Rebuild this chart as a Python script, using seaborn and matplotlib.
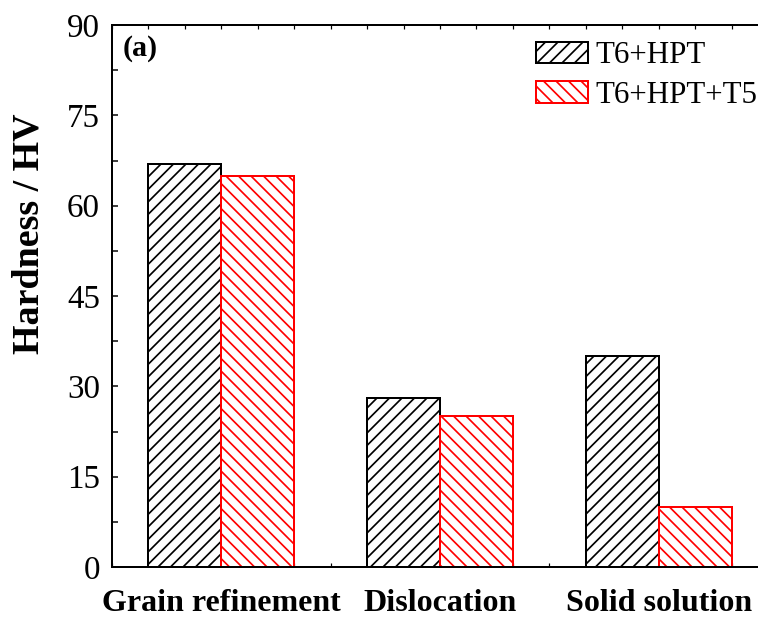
import matplotlib
matplotlib.use("Agg")
import matplotlib.pyplot as plt
from matplotlib.ticker import MultipleLocator, FixedLocator
import seaborn as sns
import pandas as pd

# Hardness contributions by strengthening mechanism
mechanisms = ["Grain refinement", "Dislocation", "Solid solution"]
t6_hpt = [67, 28, 35]
t6_hpt_t5 = [65, 25, 10]
conditions = ["T6+HPT", "T6+HPT+T5"]
edge_colors = ["black", "red"]
hatches = ["//", "\\\\"]
y_ticks = [0, 15, 30, 45, 60, 75, 90]

df = pd.DataFrame({
    "Mechanism": mechanisms * 2,
    "Condition": [conditions[0]] * 3 + [conditions[1]] * 3,
    "Hardness": t6_hpt + t6_hpt_t5,
})

sns.set_theme(style="white")
DPI = 75
PT = 72.0 / DPI  # points per pixel
plt.rcParams["font.family"] = ["Liberation Serif", "DejaVu Serif"]
plt.rcParams["hatch.linewidth"] = 1.7 * PT
plt.rcParams["text.color"] = "black"
plt.rcParams["axes.labelcolor"] = "black"

W, H = 758, 617
fig = plt.figure(figsize=(W / DPI, H / DPI), dpi=DPI)
ax = fig.add_axes([112 / W, (H - 567) / H, (768 - 112) / W, (567 - 25) / H])

sns.barplot(data=df, x="Mechanism", y="Hardness", hue="Condition",
            order=mechanisms, hue_order=conditions, width=2 / 3,
            legend=False, ax=ax, errorbar=None)

for cont, ec, ht in zip(ax.containers, edge_colors, hatches):
    for p in cont.patches:
        p.set_facecolor("white")
        p.set_edgecolor(ec)
        p.set_hatch(ht)
        p.set_linewidth(2.0 * PT)

ax.set_xlim(-0.5, 2.5)
ax.set_ylim(0, 90)
ax.yaxis.set_major_locator(FixedLocator(y_ticks))
ax.yaxis.set_minor_locator(MultipleLocator(7.5))
ax.xaxis.set_minor_locator(MultipleLocator(1 / 6))

for s in ax.spines.values():
    s.set_linewidth(2.0 * PT)
    s.set_color("black")

ax.tick_params(axis="y", which="both", direction="in", left=True, right=False,
               length=6 * PT, width=1.5 * PT, labelsize=33 * PT, pad=12 * PT,
               colors="black")
ax.tick_params(axis="x", which="both", direction="in", bottom=True, top=True,
               length=4 * PT, width=1.2 * PT, labelsize=32 * PT, pad=22 * PT,
               colors="black")
for lbl in ax.get_xticklabels():
    lbl.set_fontweight("bold")

ax.set_xlabel("")
ax.set_ylabel("Hardness / HV", fontsize=38 * PT, fontweight="bold", color="black")
ax.yaxis.set_label_coords(-(112 - 29) / (768 - 112), (567 - 234) / 542)
ax.yaxis.label.set_verticalalignment("center")

ax.text(0.016, 0.982, "(a)", transform=ax.transAxes, fontsize=30 * PT,
        fontweight="bold", va="top", ha="left", color="black")

leg = ax.legend(ax.containers, conditions, loc="upper left",
                bbox_to_anchor=((514 - 112) / (768 - 112), 1.01),
                frameon=False, fontsize=31 * PT, handlelength=1.7, handleheight=0.7,
                handletextpad=0.22, labelspacing=0.35, borderaxespad=0.3)
for t in leg.get_texts():
    t.set_color("black")

fig.savefig("out.png", dpi=DPI)
